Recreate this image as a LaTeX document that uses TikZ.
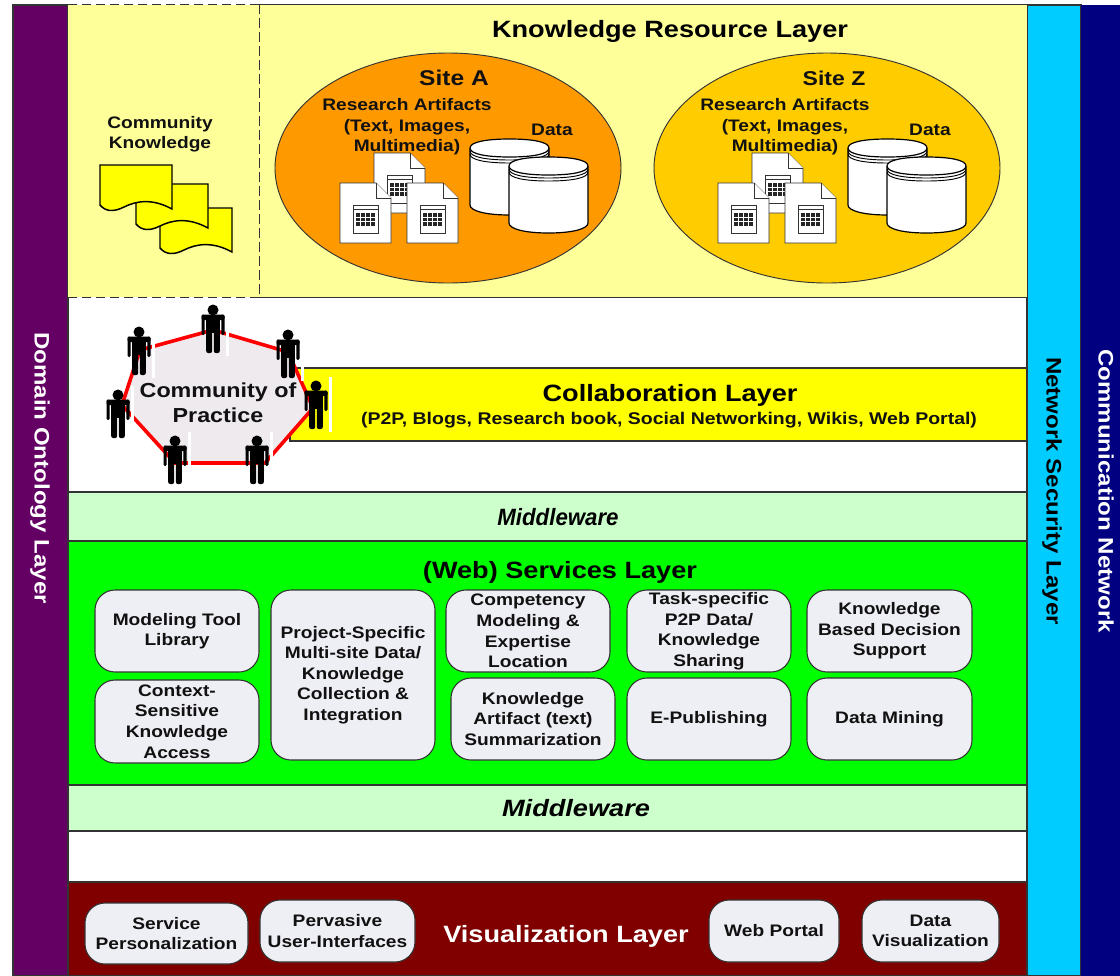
\documentclass[tikz,border=0pt]{standalone}
\usepackage{fontspec}
\setmainfont[FakeStretch=1.15]{Liberation Sans}
\usetikzlibrary{shapes.geometric}
\definecolor{purp}{HTML}{640064}
\definecolor{navyb}{HTML}{000080}
\definecolor{cyanb}{HTML}{00CCFF}
\definecolor{lyel}{HTML}{FFFF99}
\definecolor{midg}{HTML}{CCFFCC}
\definecolor{greenb}{HTML}{00FF00}
\definecolor{vizr}{HTML}{800000}
\definecolor{boxg}{HTML}{EEEEF5}
\definecolor{polyg}{HTML}{EEEAEE}
\definecolor{sitea}{HTML}{FF9900}
\definecolor{sitez}{HTML}{FFCC00}
\definecolor{edge}{HTML}{333333}
\definecolor{pureyel}{HTML}{FFFF00}
\definecolor{txtk}{HTML}{111111}
\tikzset{
 layer/.style={rectangle,draw=edge,line width=.8pt,inner sep=0pt},
 rbox/.style={rectangle,rounded corners=15pt,draw=edge,line width=.8pt,fill=boxg,inner sep=0pt,align=center,text=txtk,font=\fontsize{12.5}{15.4}\selectfont\bfseries},
 lbl/.style={inner sep=0pt,align=center,text=txtk,font=\fontsize{12.5}{15.4}\selectfont\bfseries},
 ttl/.style={inner sep=0pt,align=center,font=\fontsize{17.7}{20}\selectfont\bfseries},
 side/.style={inner sep=0pt,rotate=-90,font=\fontsize{15.7}{20}\selectfont\bfseries},
 site/.style={ellipse,draw=edge,line width=.7pt,inner sep=0pt,minimum width=259.5pt,minimum height=172.5pt},
 pic1/.style={draw=edge,line width=.7pt},
 cylfill/.style={fill=white,draw=black,line width=.9pt},
 dashedge/.style={edge,line width=1.2pt,dash pattern=on 7pt off 3.5pt},
 person/.pic={
   \fill[white] (13,-27) rectangle (16,28);
   \fill[black] (0,-18) circle[radius=5.5];
   \fill[black,rounded corners=1.5pt] (-11.5,-13.5) rectangle (11.5,-8);
   \fill[black,rounded corners=1pt] (-11.5,-13.5) rectangle (-8.3,7);
   \fill[black,rounded corners=1pt] (8.3,-13.5) rectangle (11.5,7);
   \fill[black] (-7.3,-13.5) rectangle (7.3,5);
   \fill[black,rounded corners=1.5pt] (-6.8,0) rectangle (-0.8,25);
   \fill[black,rounded corners=1.5pt] (0.8,0) rectangle (6.8,25);
 },
 docu/.pic={
   \draw[pic1,fill=white] (0,0) -- (36,0) -- (51,15) -- (51,60) -- (0,60) -- cycle;
   \draw[pic1,fill=white] (36,0) -- (36,15) -- (51,15);
   \draw[draw=edge,line width=.5pt,fill=white] (13,22) rectangle (38,50);
   \draw[edge,line width=.5pt] (13,26) -- (38,26);
   \fill[black!85] (16,30) rectangle (35,43);
   \draw[white,line width=.2pt] (16,34) -- (35,34) (16,38.5) -- (35,38.5) (20.5,30) -- (20.5,43) (25.5,30) -- (25.5,43) (30.5,30) -- (30.5,43);
 },
 cyl/.pic={
   \draw[cylfill] (0,10) -- (0,66) .. controls (0,72) and (16,76) .. (39.5,76) .. controls (63,76) and (79,72) .. (79,66) -- (79,10) -- cycle;
   \draw[cylfill] (0,9) .. controls (0,3) and (16,0) .. (39.5,0) .. controls (63,0) and (79,3) .. (79,9) .. controls (79,15) and (63,18) .. (39.5,18) .. controls (16,18) and (0,15) .. (0,9) -- cycle;
   \draw[black,line width=.7pt] (0,12) .. controls (0,18) and (16,21) .. (39.5,21) .. controls (63,21) and (79,18) .. (79,12);
   \draw[black,line width=.7pt] (0,15) .. controls (0,21) and (16,24) .. (39.5,24) .. controls (63,24) and (79,21) .. (79,15);
 },
 tape/.pic={
   \draw[black,line width=1.1pt,fill=pureyel] (0,0) -- (72,0) -- (72,44) .. controls (52,33) and (36,36) .. (24,42) .. controls (14,47) and (6,47) .. (0,40) -- cycle;
 },
}
\newcommand{\lay}[7][]{\node[layer,fill=#3,#1,minimum width={(#6-#4)*0.75pt},minimum height={(#7-#5)*0.75pt}] (#2) at ({(#4+#6)/2},{(#5+#7)/2}) {};}
\newcommand{\rb}[6]{\node[rbox,minimum width={(#4-#2)*0.75pt},minimum height={(#5-#3)*0.75pt}] (#1) at ({(#2+#4)/2},{(#3+#5)/2}) {#6};}
\begin{document}
\begin{tikzpicture}[x=.75pt,y=-.75pt]
\path[use as bounding box,fill=white] (0,0) rectangle (1120,975);
% side bars
\lay{domainbar}{purp}{13}{5}{68}{976}
\lay{secbar}{cyanb}{1027}{5}{1081}{976}
\lay[draw=none]{combar}{navyb}{1081}{5}{1120}{976}
\node[side,white] (domaintxt) at (40,468) {Domain Ontology Layer};
\node[side,black] (sectxt) at (1052,491) {Network Security Layer};
\node[side,white] (comtxt) at (1106,491) {Communication Network};
% knowledge
\lay[draw=none]{ckbg}{lyel}{68}{5}{260}{297}
\lay[draw=none]{krl}{lyel}{260}{5}{1027}{297}
\draw[edge,line width=1.1pt] (krl.north west) -- (krl.north east) -- (krl.south east) -- (krl.south west);
\draw[dashedge] (krl.north west) -- (ckbg.north west);
\draw[dashedge] (krl.south west) -- (ckbg.south west);
\draw[dashedge] (krl.north west) -- (krl.south west);
\node[ttl] (krltxt) at (670,31) {Knowledge Resource Layer};
\node[lbl] (cktxt) at (160,134) {Community\\Knowledge};
\pic at (160,208) {tape};
\pic at (136,184) {tape};
\pic at (100,165) {tape};
\node[site,fill=sitea] (siteA) at (448,168) {};
\node[site,fill=sitez] (siteZ) at (827,168) {};
\node[lbl,font=\fontsize{16}{15}\selectfont\bfseries] (sa) at (454,78) {Site A};
\node[lbl,font=\fontsize{15}{15}\selectfont\bfseries] (sz) at (834,78) {Site Z};
\node[lbl] (raA) at (407,127) {Research Artifacts\\(Text, Images,\\Multimedia)};
\node[lbl] (raZ) at (785,127) {Research Artifacts\\(Text, Images,\\Multimedia)};
\node[lbl] (dA) at (552,130) {Data};
\node[lbl] (dZ) at (930,130) {Data};
\foreach \d in {0,378}{
  \pic at (374+\d,153) {docu};
  \pic at (340+\d,183) {docu};
  \pic at (407+\d,183) {docu};
  \pic at (470+\d,139) {cyl};
  \pic at (509+\d,157) {cyl};
}
% collaboration
\lay{coll}{pureyel}{290}{368}{1027}{441}
\node[ttl] (colltxt) at (670,395) {Collaboration Layer};
\node[lbl,font=\fontsize{12.7}{15.4}\selectfont\bfseries] (collsub) at (669,420) {(P2P, Blogs, Research book, Social Networking, Wikis, Web Portal)};
% community
\draw[red,line width=2.7pt,fill=polyg] (213,330) -- (288,352) -- (313,408) -- (265,463) -- (175,463) -- (122,405) -- (140,350) -- cycle;
\node[lbl,font=\fontsize{15.2}{18.5}\selectfont\bfseries] (coptxt) at (218,403) {Community of\\Practice};
\foreach \x/\y in {213/328,139/350,288/353,118/413,316/404,175/459,257/459}{
  \pic at (\x,\y) {person};
}
% middleware and services
\lay{mw1}{midg}{68}{492}{1027}{541}
\node[ttl,font=\fontsize{17.7}{20}\selectfont\bfseries\itshape] (mw1txt) at (558,517) {\scalebox{0.82}[1]{Middleware}};
\lay{svc}{greenb}{68}{541}{1027}{785}
\node[ttl] (svctxt) at (560,572) {(Web) Services Layer};
\lay{mw2}{midg}{68}{785}{1027}{831}
\node[ttl,font=\fontsize{17.7}{20}\selectfont\bfseries\itshape] (mw2txt) at (576,808) {Middleware};
\rb{b1}{95}{590}{259}{672}{Modeling Tool\\Library}
\rb{b2}{95}{680}{259}{763}{Context-\\Sensitive\\Knowledge\\Access}
\rb{b3}{271}{590}{435}{760}{Project-Specific\\Multi-site Data/\\Knowledge\\Collection \&\\Integration}
\rb{b4}{446}{590}{610}{672}{Competency\\Modeling \&\\Expertise\\Location}
\rb{b5}{451}{678}{615}{760}{Knowledge\\Artifact (text)\\Summarization}
\rb{b6}{627}{590}{791}{672}{Task-specific\\P2P Data/\\Knowledge\\Sharing}
\rb{b7}{627}{678}{791}{760}{E-Publishing}
\rb{b8}{807}{590}{972}{672}{Knowledge\\Based Decision\\Support}
\rb{b9}{807}{678}{972}{760}{Data Mining}
% visualization
\lay{viz}{vizr}{68}{882}{1027}{976}
\node[ttl,white] (viztxt) at (566,936) {Visualization Layer};
\rb{v1}{85}{903}{248}{964}{Service\\Personalization}
\rb{v2}{260}{900}{415}{962}{Pervasive\\User-Interfaces}
\rb{v3}{709}{900}{839}{962}{Web Portal}
\rb{v4}{862}{900}{999}{962}{Data\\Visualization}
\end{tikzpicture}
\end{document}
